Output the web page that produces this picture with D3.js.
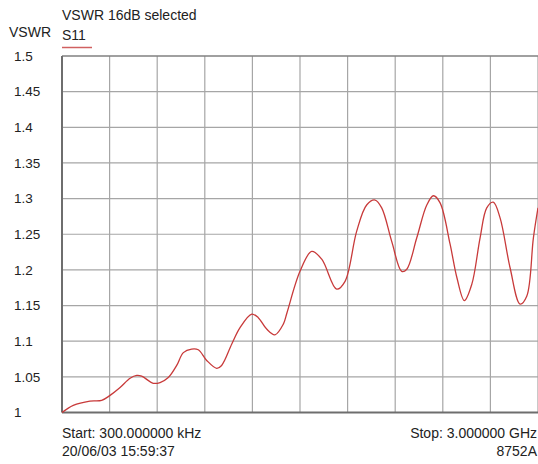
<!DOCTYPE html>
<html>
<head>
<meta charset="utf-8">
<script src="https://cdn.jsdelivr.net/npm/d3@7"></script>
<style>
  body { margin: 0; background: #fff; }
  text { font-family: "Liberation Sans", Arial, sans-serif; font-size: 14px; fill: #222; }
  text.ylab { font-size: 13.5px; }
</style>
</head>
<body>
<div id="chart"></div>
<script>
// frequency in GHz, VSWR
var freqs = [0.0003, 0.071, 0.176, 0.250, 0.303, 0.366, 0.429, 0.471, 0.502, 0.575, 0.618, 0.670,
    0.723, 0.765, 0.817, 0.859, 0.912, 0.975, 1.006, 1.070, 1.122, 1.196, 1.237, 1.290,
    1.342, 1.395, 1.418, 1.500, 1.574, 1.637, 1.731, 1.784, 1.857, 1.920, 1.973, 2.015,
    2.078, 2.141, 2.173, 2.236, 2.299, 2.341, 2.383, 2.446, 2.489, 2.536, 2.583, 2.635,
    2.677, 2.718, 2.761, 2.824, 2.887, 2.929, 2.971, 3.0];
var vswr = [1.000, 1.010, 1.016, 1.017, 1.024, 1.035, 1.048, 1.052, 1.051, 1.041, 1.042, 1.049,
    1.066, 1.084, 1.089, 1.088, 1.073, 1.062, 1.066, 1.096, 1.119, 1.138, 1.133, 1.117,
    1.109, 1.124, 1.140, 1.198, 1.226, 1.215, 1.173, 1.184, 1.254, 1.291, 1.298, 1.287,
    1.240, 1.198, 1.201, 1.245, 1.291, 1.304, 1.294, 1.236, 1.189, 1.157, 1.180, 1.245,
    1.287, 1.295, 1.273, 1.203, 1.152, 1.163, 1.245, 1.287];
var yTicks = [1, 1.05, 1.1, 1.15, 1.2, 1.25, 1.3, 1.35, 1.4, 1.45, 1.5];
var yTickLabels = ["1", "1.05", "1.1", "1.15", "1.2", "1.25", "1.3", "1.35", "1.4", "1.45", "1.5"];
var xDivs = d3.range(0, 11).map(function(i) { return i * 0.3; });

var W = 538, H = 464;
var margin = {top: 56, right: 0, bottom: 51.5, left: 62},
    width = W - margin.left - margin.right,
    height = H - margin.top - margin.bottom;

var x = d3.scaleLinear().domain([0, 3]).range([0, width]);
var y = d3.scaleLinear().domain([1, 1.5]).range([height, 0]);

var svg = d3.select("#chart").append("svg")
    .attr("width", W)
    .attr("height", H);

var g = svg.append("g")
    .attr("transform", "translate(" + margin.left + "," + margin.top + ")");

// grid
g.selectAll(".hgrid").data(yTicks.slice(1, -1))
  .enter().append("line")
    .attr("x1", 0).attr("x2", width)
    .attr("y1", function(d) { return y(d); })
    .attr("y2", function(d) { return y(d); })
    .attr("stroke", "#a6a6a6").attr("stroke-width", 1.2);

g.selectAll(".vgrid").data(xDivs.slice(1))
  .enter().append("line")
    .attr("x1", function(d) { return x(d); })
    .attr("x2", function(d) { return x(d); })
    .attr("y1", 0).attr("y2", height)
    .attr("stroke", "#a6a6a6").attr("stroke-width", 1.2);

// frame
g.append("line").attr("x1", 0).attr("x2", width).attr("y1", 0).attr("y2", 0)
    .attr("stroke", "#808080").attr("stroke-width", 1.5);
g.append("line").attr("x1", 0).attr("x2", width).attr("y1", height).attr("y2", height)
    .attr("stroke", "#6e6e6e").attr("stroke-width", 2);
g.append("line").attr("x1", 0).attr("x2", 0).attr("y1", 0).attr("y2", height)
    .attr("stroke", "#6e6e6e").attr("stroke-width", 2);

// y labels
svg.selectAll(".ylab").data(yTicks)
  .enter().append("text")
    .attr("class", "ylab")
    .attr("x", 14)
    .attr("y", function(d) { return margin.top + y(d); })
    .attr("dy", "0.35em")
    .text(function(d, i) { return yTickLabels[i]; });

// trace
var data = freqs.map(function(f, i) { return [f, vswr[i]]; });
var line = d3.line()
    .x(function(d) { return x(d[0]); })
    .y(function(d) { return y(d[1]); })
    .curve(d3.curveCatmullRom.alpha(0.5));

g.append("path")
    .datum(data)
    .attr("fill", "none")
    .attr("stroke", "#c83a3a")
    .attr("stroke-width", 1.3)
    .attr("d", line);

// header
svg.append("text").attr("x", 62).attr("y", 20).text("VSWR 16dB selected");
svg.append("text").attr("x", 9).attr("y", 37).text("VSWR");
svg.append("text").attr("x", 62).attr("y", 40).text("S11");
svg.append("line").attr("x1", 62).attr("x2", 92).attr("y1", 47.5).attr("y2", 47.5)
    .attr("stroke", "#d06060").attr("stroke-width", 1.5);

// footer
svg.append("text").attr("x", 62).attr("y", 438).text("Start: 300.000000 kHz");
svg.append("text").attr("x", 62).attr("y", 456).text("20/06/03 15:59:37");
svg.append("text").attr("x", 537).attr("y", 438).attr("text-anchor", "end").text("Stop: 3.000000 GHz");
svg.append("text").attr("x", 537).attr("y", 456).attr("text-anchor", "end").text("8752A");
</script>
</body>
</html>
